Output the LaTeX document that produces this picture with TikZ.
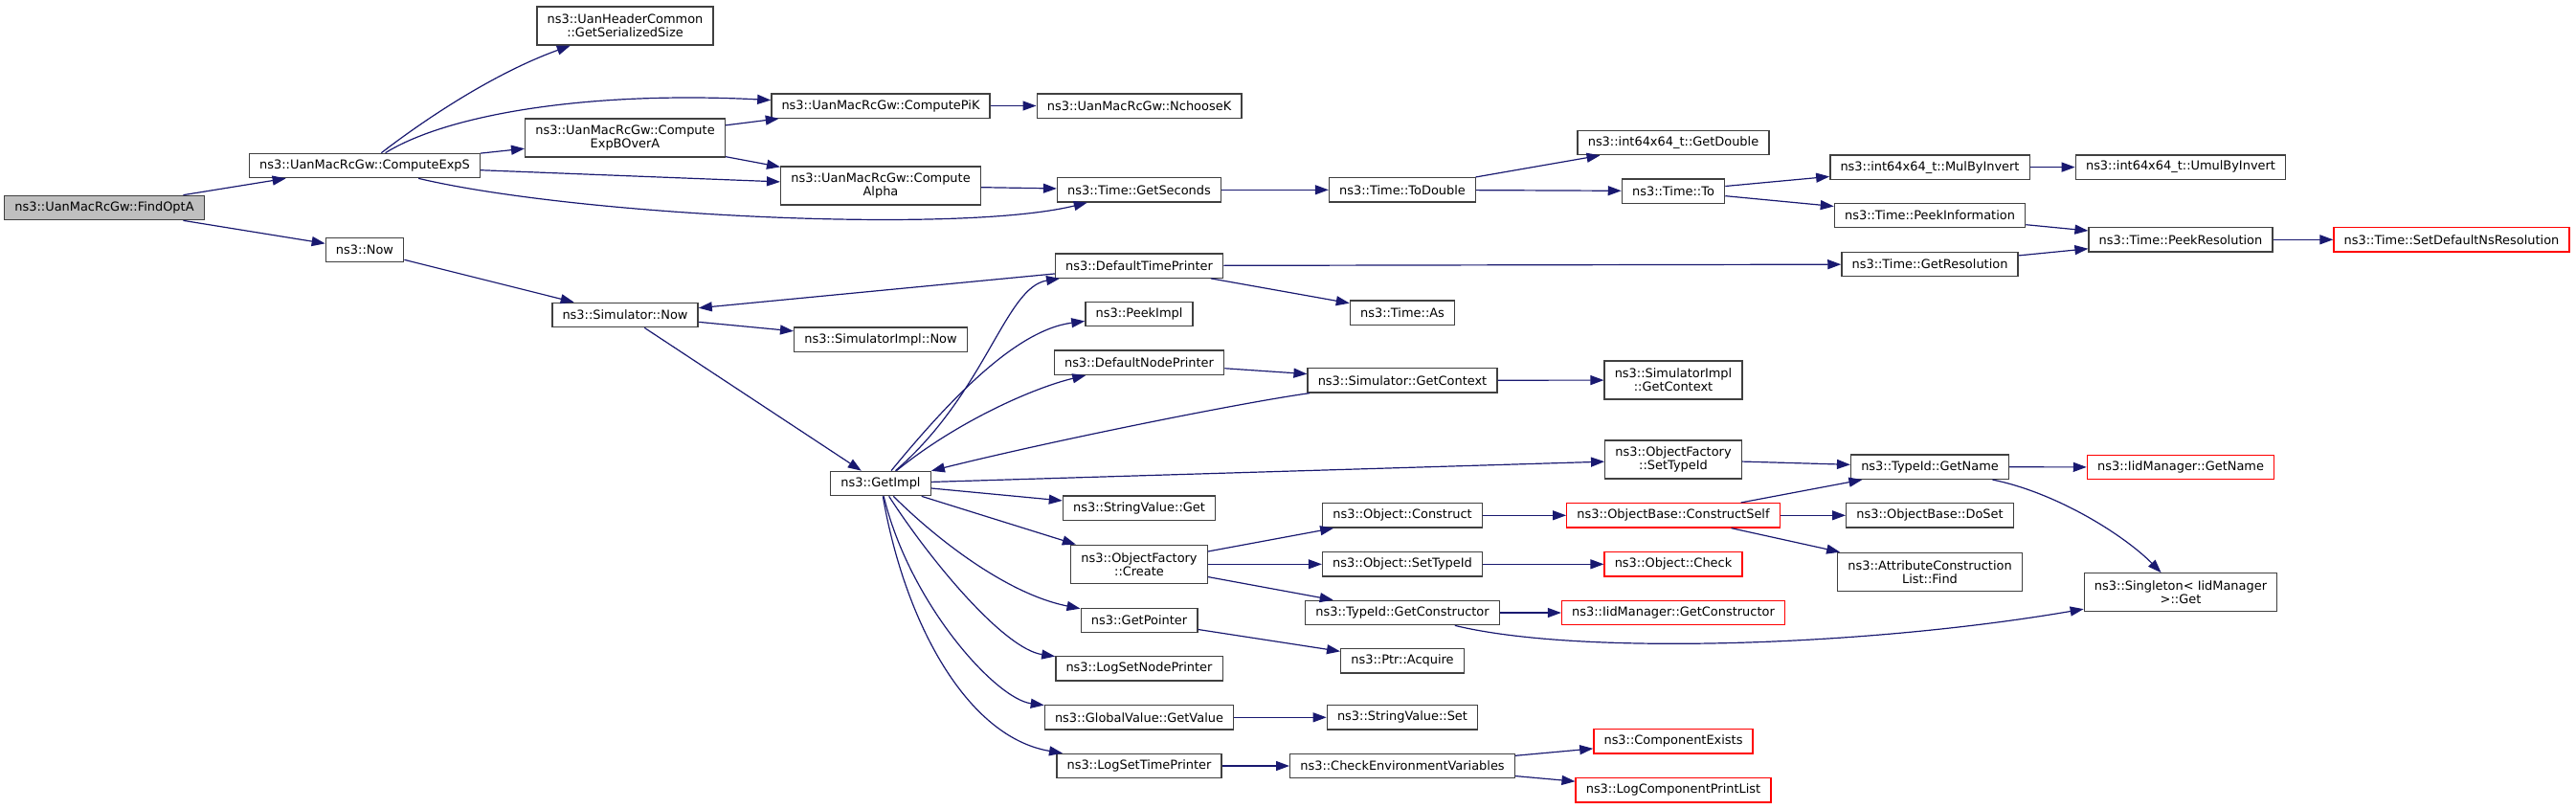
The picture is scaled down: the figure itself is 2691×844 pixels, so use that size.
\documentclass[tikz,border=0pt]{standalone}
\usepackage{fontspec}
\setmainfont{DejaVu Sans}
\usetikzlibrary{arrows.meta}
\definecolor{edgeblue}{HTML}{191970}
\definecolor{rootgray}{HTML}{BFBFBF}
\definecolor{boxgray}{HTML}{404040}

\begin{document}
\begin{tikzpicture}[x=0.75pt, y=-0.75pt,
        fn/.style={draw=boxgray, line width=1pt, rectangle, fill=white, inner xsep=8pt, minimum height=19pt, align=center, font=\fontsize{9.7}{10.5}\selectfont},
        fnred/.style={fn, draw=red},
        fnroot/.style={fn, fill=rootgray},
        fntwo/.style={fn, minimum height=30pt},
        call/.style={draw=edgeblue, line width=0.9pt, -{Triangle[length=10.5pt, width=7.5pt]}}]

        \useasboundingbox (0, 0) rectangle (2691, 844);

        \node[name=findopta, fnroot] at (109, 217) {ns3::UanMacRcGw::FindOptA};
        \node[name=cexps, fn] at (381, 173) {ns3::UanMacRcGw::ComputeExpS};
        \node[name=nowfn, fn] at (381, 261) {ns3::Now};

        \node[name=gss, fntwo] at (653, 27) {ns3::UanHeaderCommon\\::GetSerializedSize};
        \node[name=cexpb, fntwo] at (653, 144) {ns3::UanMacRcGw::Compute\\ExpBOverA};
        \node[name=simnow, fn] at (653, 329) {ns3::Simulator::Now};

        \node[name=cpik, fn] at (920, 110.5) {ns3::UanMacRcGw::ComputePiK};
        \node[name=calpha, fntwo] at (920, 194) {ns3::UanMacRcGw::Compute\\Alpha};
        \node[name=simimplnow, fn] at (920, 354.5) {ns3::SimulatorImpl::Now};
        \node[name=gimpl, fn] at (920, 505) {ns3::GetImpl};

        \node[name=nchoosek, fn] at (1190, 110.5) {ns3::UanMacRcGw::NchooseK};
        \node[name=getsec, fn] at (1190, 198.3) {ns3::Time::GetSeconds};
        \node[name=dtp, fn] at (1190, 277.5) {ns3::DefaultTimePrinter};
        \node[name=peekimpl, fn] at (1190, 328) {ns3::PeekImpl};
        \node[name=dnp, fn] at (1190, 378.7) {ns3::DefaultNodePrinter};
        \node[name=svget, fn] at (1190, 530.5) {ns3::StringValue::Get};
        \node[name=ofcreate, fntwo] at (1190, 589.3) {ns3::ObjectFactory\\::Create};
        \node[name=getptr, fn] at (1190, 648) {ns3::GetPointer};
        \node[name=lsnp, fn] at (1190, 698.3) {ns3::LogSetNodePrinter};
        \node[name=gvget, fn] at (1190, 749.3) {ns3::GlobalValue::GetValue};
        \node[name=lstp, fn] at (1190, 800) {ns3::LogSetTimePrinter};

        \node[name=todouble, fn] at (1465, 198.3) {ns3::Time::ToDouble};
        \node[name=timeas, fn] at (1465, 326.5) {ns3::Time::As};
        \node[name=simctx, fn] at (1465, 397.3) {ns3::Simulator::GetContext};
        \node[name=objcons, fn] at (1465, 538.3) {ns3::Object::Construct};
        \node[name=objsettid, fn] at (1465, 589.3) {ns3::Object::SetTypeId};
        \node[name=tidcons, fn] at (1465, 640) {ns3::TypeId::GetConstructor};
        \node[name=ptracq, fn] at (1465, 690.3) {ns3::Ptr::Acquire};
        \node[name=svset, fn] at (1465, 749.3) {ns3::StringValue::Set};
        \node[name=checkenv, fn] at (1465, 800) {ns3::CheckEnvironmentVariables};

        \node[name=getdouble, fn] at (1748, 149) {ns3::int64x64\_t::GetDouble};
        \node[name=timeto, fn] at (1748, 199.5) {ns3::Time::To};
        \node[name=implctx, fntwo] at (1748, 397) {ns3::SimulatorImpl\\::GetContext};
        \node[name=ofsettid, fntwo] at (1748, 480) {ns3::ObjectFactory\\::SetTypeId};
        \node[name=cself, fnred] at (1748, 538.3) {ns3::ObjectBase::ConstructSelf};
        \node[name=objcheck, fnred] at (1748, 589.3) {ns3::Object::Check};
        \node[name=iidcons, fnred] at (1748, 640) {ns3::IidManager::GetConstructor};
        \node[name=compexists, fnred] at (1748, 774.3) {ns3::ComponentExists};
        \node[name=logcpl, fnred] at (1748, 825.3) {ns3::LogComponentPrintList};

        \node[name=mulinv, fn] at (2016, 174.7) {ns3::int64x64\_t::MulByInvert};
        \node[name=peekinfo, fn] at (2016, 225) {ns3::Time::PeekInformation};
        \node[name=getres, fn] at (2016, 276) {ns3::Time::GetResolution};
        \node[name=tidname, fn] at (2016, 487.7) {ns3::TypeId::GetName};
        \node[name=doset, fn] at (2016, 538.3) {ns3::ObjectBase::DoSet};
        \node[name=acfind, fntwo] at (2016, 597.3) {ns3::AttributeConstruction\\List::Find};

        \node[name=umulinv, fn] at (2278, 174.5) {ns3::int64x64\_t::UmulByInvert};
        \node[name=peekres, fn] at (2278, 250.3) {ns3::Time::PeekResolution};
        \node[name=iidname, fnred] at (2278, 488) {ns3::IidManager::GetName};
        \node[name=singleton, fntwo] at (2278, 618.8) {ns3::Singleton< IidManager\\>::Get};

        \node[name=setdefns, fnred] at (2561, 250.3) {ns3::Time::SetDefaultNsResolution};

        \foreach \a/\b in {findopta/cexps, findopta/nowfn, cexps/cexpb, cexps/calpha,
                cexpb/cpik, cexpb/calpha, cpik/nchoosek, calpha/getsec, getsec/todouble,
                todouble/getdouble, todouble/timeto, timeto/mulinv, timeto/peekinfo,
                mulinv/umulinv, peekinfo/peekres, getres/peekres, peekres/setdefns,
                nowfn/simnow, simnow/simimplnow, simnow/gimpl, dtp/simnow, dtp/getres,
                dtp/timeas, dnp/simctx, simctx/implctx, gimpl/ofsettid, gimpl/svget,
                gimpl/ofcreate, ofsettid/tidname, ofcreate/objcons, ofcreate/objsettid,
                ofcreate/tidcons, objcons/cself, cself/tidname, cself/doset, cself/acfind,
                objsettid/objcheck, tidcons/iidcons, tidname/iidname, getptr/ptracq,
                gvget/svset, lstp/checkenv, checkenv/compexists, checkenv/logcpl}
            {
                \draw[call] (\a) -- (\b);
            }

        \foreach \a/\b/\p/\q/\r/\s in {cexps/gss/450/120/520/75, cexps/cpik/470/118/620/95,
                cexps/getsec/600/225/1000/245, gimpl/dtp/1030/410/1050/300,
                gimpl/peekimpl/990/420/1060/345, gimpl/dnp/1000/440/1080/405,
                simctx/gimpl/1300/420/1100/460, gimpl/getptr/975/560/1050/620,
                gimpl/lsnp/975/590/1050/678, gimpl/gvget/950/630/1040/730,
                gimpl/lstp/945/650/1010/770, tidcons/singleton/1650/685/1950/675,
                tidname/singleton/2150/515/2220/560}
            {
                \draw[call] (\a) .. controls (\p, \q) and (\r, \s) .. (\b);
            }
    \end{tikzpicture}
\end{document}
